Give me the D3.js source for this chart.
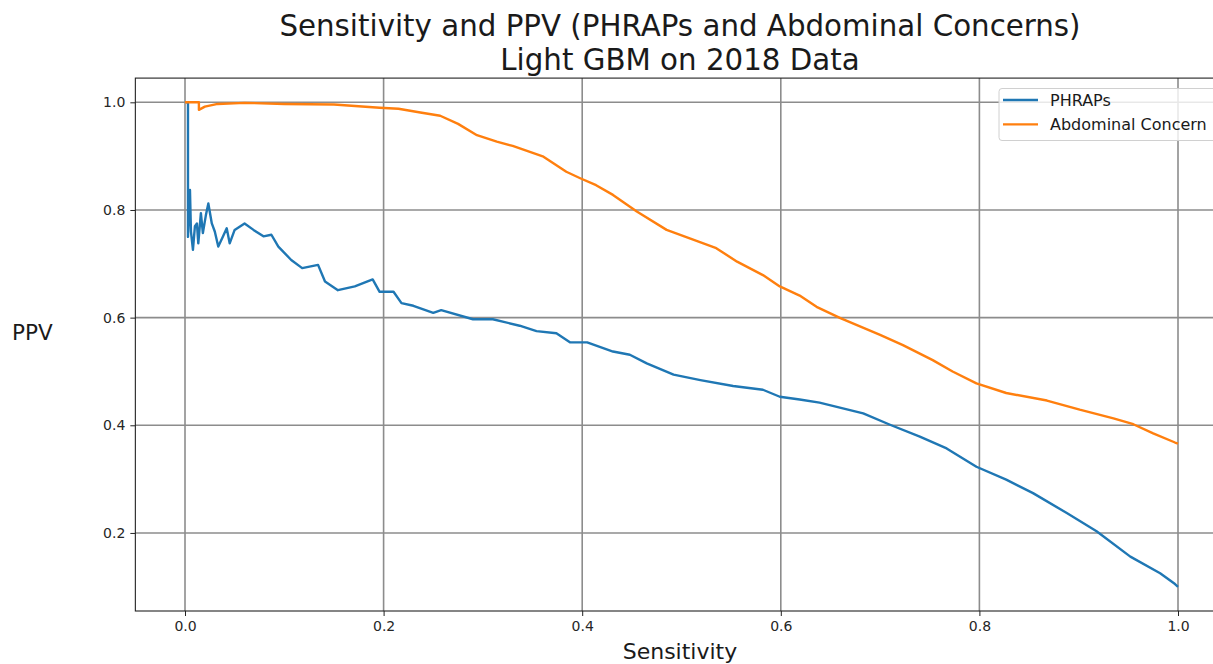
<!DOCTYPE html>
<html><head><meta charset="utf-8">
<script src="https://cdn.jsdelivr.net/npm/d3@7"></script>
<style>body{margin:0;background:#fff;} svg{display:block;font-family:"DejaVu Sans",sans-serif;}</style>
</head><body>
<svg id="chart" width="1213" height="664"></svg>
<script>
const titleLines = ["Sensitivity and PPV (PHRAPs and Abdominal Concerns)", "Light GBM on 2018 Data"];
const xLabel = "Sensitivity";
const yLabel = "PPV";
const seriesNames = ["PHRAPs", "Abdominal Concern"];
const seriesColors = ["#1f77b4", "#ff7f0e"];
const xTicks = [0.0, 0.2, 0.4, 0.6, 0.8, 1.0];
const yTicks = [0.2, 0.4, 0.6, 0.8, 1.0];

const phrapsSens = [0.001,0.003,0.003,0.004,0.005,0.006,0.008,0.010,0.012,0.0134,0.016,0.018,0.021,0.0235,0.027,0.030,0.0335,0.038,0.042,0.045,0.050,0.060,0.069,0.079,0.087,0.094,0.107,0.118,0.134,0.141,0.154,0.171,0.189,0.196,0.210,0.218,0.230,0.250,0.258,0.290,0.310,0.337,0.354,0.374,0.388,0.405,0.431,0.448,0.465,0.492,0.519,0.552,0.582,0.599,0.619,0.639,0.683,0.710,0.740,0.767,0.797,0.827,0.854,0.888,0.918,0.952,0.982,0.997,1.0];
const phrapsPPV = [1.0,1.0,0.75,0.80,0.837,0.76,0.726,0.77,0.775,0.738,0.794,0.757,0.79,0.812,0.775,0.76,0.732,0.75,0.766,0.738,0.763,0.775,0.763,0.751,0.754,0.732,0.707,0.692,0.698,0.667,0.651,0.658,0.671,0.648,0.648,0.627,0.622,0.609,0.614,0.597,0.597,0.585,0.575,0.571,0.554,0.554,0.537,0.531,0.515,0.494,0.484,0.473,0.466,0.453,0.448,0.442,0.422,0.401,0.379,0.357,0.323,0.299,0.274,0.237,0.203,0.156,0.125,0.105,0.100];

const abdSens = [0.0,0.014,0.014,0.02,0.033,0.06,0.1,0.15,0.196,0.215,0.237,0.257,0.275,0.294,0.314,0.33,0.361,0.384,0.398,0.414,0.431,0.455,0.485,0.509,0.535,0.556,0.582,0.599,0.619,0.636,0.66,0.70,0.723,0.753,0.773,0.797,0.827,0.868,0.901,0.935,0.955,0.975,0.997,1.0];
const abdPPV = [1.0,1.0,0.986,0.992,0.997,0.999,0.997,0.996,0.99,0.988,0.981,0.975,0.96,0.939,0.927,0.919,0.899,0.871,0.859,0.846,0.828,0.797,0.763,0.747,0.729,0.704,0.679,0.658,0.641,0.620,0.599,0.568,0.549,0.521,0.500,0.478,0.460,0.446,0.429,0.413,0.402,0.385,0.368,0.366];

const svg = d3.select("#chart");
svg.append("rect").attr("width",1213).attr("height",664).attr("fill","#fff");

const x = d3.scaleLinear().domain([-0.05, 1.05]).range([135.35, 1227.65]);
const y = d3.scaleLinear().domain([0.055, 1.045]).range([611, 78.1]);
const L = x.range()[0], R = x.range()[1], T = y.range()[1], B = y.range()[0];

svg.append("defs").append("clipPath").attr("id","clip")
  .append("rect").attr("x",L).attr("y",T).attr("width",R-L).attr("height",B-T);

// grid
const grid = svg.append("g").attr("stroke","#8c8c8c").attr("stroke-width",1.6);
grid.selectAll("line.gx").data(xTicks).join("line")
  .attr("x1",d=>x(d)).attr("x2",d=>x(d)).attr("y1",T).attr("y2",B);
grid.selectAll("line.gy").data(yTicks).join("line")
  .attr("y1",d=>y(d)).attr("y2",d=>y(d)).attr("x1",L).attr("x2",R);

// lines
const data = [
  phrapsSens.map((s,i)=>[s, phrapsPPV[i]]),
  abdSens.map((s,i)=>[s, abdPPV[i]])
];
const line = d3.line().x(d=>x(d[0])).y(d=>y(d[1]));
const lg = svg.append("g").attr("clip-path","url(#clip)");
data.forEach((d,i)=>{
  lg.append("path").attr("d",line(d)).attr("fill","none")
    .attr("stroke",seriesColors[i]).attr("stroke-width",2.4)
    .attr("stroke-linejoin","round");
});

// axes
const xAxis = d3.axisBottom(x).tickValues(xTicks).tickFormat(d3.format(".1f")).tickSizeOuter(0).tickSize(5).tickPadding(5);
const yAxis = d3.axisLeft(y).tickValues(yTicks).tickFormat(d3.format(".1f")).tickSizeOuter(0).tickSize(5).tickPadding(5);
const gx = svg.append("g").attr("transform",`translate(0,${B})`).call(xAxis);
const gy = svg.append("g").attr("transform",`translate(${L},0)`).call(yAxis);
[gx,gy].forEach(g=>{
  g.select(".domain").remove();
  g.selectAll("line").attr("stroke","#222").attr("stroke-width",1);
  g.selectAll("text").attr("font-family","DejaVu Sans").attr("font-size",14).attr("fill","#262626");
});

// spines
svg.append("rect").attr("x",L).attr("y",T).attr("width",R-L).attr("height",B-T)
  .attr("fill","none").attr("stroke","#222").attr("stroke-width",1.1);

// title
const tt = svg.append("text").attr("text-anchor","middle").attr("font-size",29.3).attr("fill","#1a1a1a");
titleLines.forEach((t,i)=>{
  tt.append("tspan").attr("x",680).attr("y",36+i*33.5).text(t);
});

// axis labels
svg.append("text").attr("x",680).attr("y",659).attr("text-anchor","middle")
  .attr("font-size",22).attr("fill","#1a1a1a").text(xLabel);
svg.append("text").attr("x",12).attr("y",340).attr("font-size",21.5).attr("fill","#1a1a1a").text(yLabel);

// legend
const leg = svg.append("g");
leg.append("rect").attr("x",999).attr("y",88.5).attr("width",240).attr("height",52).attr("rx",3)
  .attr("fill","#fff").attr("fill-opacity",0.8).attr("stroke","#d0d0d0").attr("stroke-width",1);
seriesNames.forEach((n,i)=>{
  const yy = 100 + i*24.3;
  leg.append("line").attr("x1",1003).attr("x2",1038).attr("y1",yy).attr("y2",yy)
    .attr("stroke",seriesColors[i]).attr("stroke-width",2.3);
  leg.append("text").attr("x",1050).attr("y",yy+5.5).attr("font-size",16).attr("fill","#1a1a1a").text(n);
});
</script>
</body></html>
